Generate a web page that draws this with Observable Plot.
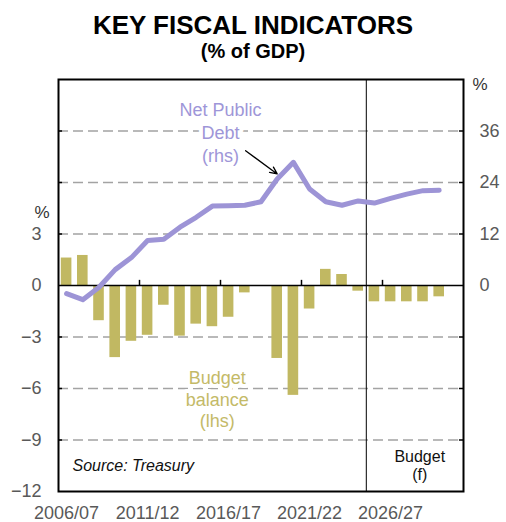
<!DOCTYPE html>
<html>
<head>
<meta charset="utf-8">
<script src="https://cdn.jsdelivr.net/npm/d3@7"></script>
<script src="https://cdn.jsdelivr.net/npm/@observablehq/plot@0.6"></script>
<style>
  body { margin: 0; background: #fff; font-family: "Liberation Sans", Arial, sans-serif; }
  #head { position: relative; width: 506px; height: 66px; }
  #title { position: absolute; left: 0; top: 10px; width: 506px; text-align: center; font-weight: bold; font-size: 26px; line-height: 30px; color: #000; }
  #subtitle { position: absolute; left: 0; top: 39px; width: 506px; text-align: center; font-weight: bold; font-size: 20px; line-height: 24px; color: #000; }
</style>
</head>
<body>
<div id="head">
  <div id="title">KEY FISCAL INDICATORS</div>
  <div id="subtitle">(% of GDP)</div>
</div>
<div id="chart"></div>
<script>
// Financial years (last one is an empty slot at the right of the chart)
const years = ["2006/07","2007/08","2008/09","2009/10","2010/11","2011/12","2012/13","2013/14",
  "2014/15","2015/16","2016/17","2017/18","2018/19","2019/20","2020/21","2021/22","2022/23",
  "2023/24","2024/25","2025/26","2026/27","2027/28","2028/29","2029/30","2030/31"];
// Budget balance, % of GDP (lhs)
const budgetBalance = [1.6,1.75,-2.05,-4.2,-3.25,-2.9,-1.15,-2.95,-2.25,-2.4,-1.85,-0.43,-0.03,
  -4.25,-6.4,-1.37,0.94,0.64,-0.33,-0.95,-0.95,-0.95,-0.95,-0.66];
// Net public debt, % of GDP (rhs)
const netDebt = [-1.9,-3.3,-0.4,3.7,6.5,10.5,10.8,13.6,15.9,18.5,18.6,18.7,19.5,
  24.8,28.7,22.5,19.5,18.7,19.7,19.2,20.3,21.3,22.1,22.2];
// Axis ticks
const leftTicks = [3,0,-3,-6,-9,-12];
const rightTicks = [36,24,12,0];
const gridLines = [9,6,3,-3,-6,-9];
const xLabelYears = ["2006/07","2011/12","2016/17","2021/22","2026/27"];
const xBoundaryTicks = ["2011/12","2016/17","2021/22","2026/27"];
const forecastStart = "2025/26";
const rhsFactor = 4; // rhs value = 4 x lhs value

const idx = y => years.indexOf(y);
const barData = budgetBalance.map((v,i) => ({i, v}));
const lineData = netDebt.map((v,i) => ({i, v}));

const debtColor = "#9D94D6";
const balColor = "#C1B862";

const chart = Plot.plot({
  width: 506,
  height: 456,
  marginTop: 13,
  marginBottom: 31,
  marginLeft: 58,
  marginRight: 43,
  style: { fontFamily: "'Liberation Sans', Arial, sans-serif", fontSize: "18px", color: "#595959", background: "#fff" },
  x: { type: "linear", domain: [0, years.length] },
  y: { domain: [-12, 12] },
  marks: [
    Plot.ruleY(gridLines, { stroke: "#A3A3A3", strokeWidth: 1.7, strokeDasharray: "10,5" }),
    Plot.ruleY(gridLines, { x1: 0, x2: 0.25, stroke: "#000", strokeWidth: 1.5 }),
    Plot.ruleY(gridLines, { x1: years.length - 0.25, x2: years.length, stroke: "#000", strokeWidth: 1.5 }),
    Plot.text([{ y: -6.6, x: 9.8 }], {
      x: "x", y: "y", text: () => "Budget\nbalance\n(lhs)", fill: "#C4BA68",
      fontSize: 18, lineHeight: 1.2, stroke: "#fff", strokeWidth: 8, paintOrder: "stroke"
    }),
    Plot.text([{ y: 8.95, x: 10.0 }], {
      x: "x", y: "y", text: () => "Net Public\nDebt\n(rhs)", fill: "#9E96D8",
      fontSize: 18, lineHeight: 1.28, stroke: "#fff", strokeWidth: 8, paintOrder: "stroke"
    }),
    Plot.rectY(barData, { x1: d => d.i, x2: d => d.i + 1, y: "v", fill: balColor, insetLeft: 2.8, insetRight: 2.8 }),
    Plot.ruleY([0], { stroke: "#000", strokeWidth: 1.6 }),
    Plot.ruleX(xBoundaryTicks, { x: d => idx(d), y1: 0, y2: 0.3, stroke: "#000", strokeWidth: 1.5 }),
    Plot.ruleX([forecastStart], { x: d => idx(d), stroke: "#000", strokeWidth: 1 }),
    Plot.line(lineData, { x: d => d.i + 0.5, y: d => d.v / rhsFactor, stroke: debtColor, strokeWidth: 5, strokeLinejoin: "round" }),
    Plot.arrow([{ x1: 11.55, y1: 7.85, x2: 13.5, y2: 6.5 }], {
      x1: "x1", y1: "y1", x2: "x2", y2: "y2", stroke: "#000", strokeWidth: 1.3, headLength: 9, headAngle: 50
    }),
    Plot.text(["Source: Treasury"], { frameAnchor: "bottom-left", dx: 14, dy: -21, textAnchor: "start", fontStyle: "italic", fontSize: 16, fill: "#111" }),
    Plot.text([{ x: 22.3, y: -10.45 }], { x: "x", y: "y", text: () => "Budget\n(f)", fontSize: 16, lineHeight: 1.15, fill: "#111" }),
    Plot.frame({ stroke: "#000", strokeWidth: 2 }),
    Plot.axisY(leftTicks, { anchor: "left", tickSize: 0, tickPadding: 17, label: null }),
    Plot.axisY(rightTicks.map(d => d / rhsFactor), { anchor: "right", tickSize: 0, tickPadding: 16, tickFormat: d => d * rhsFactor, label: null }),
    Plot.axisX(xLabelYears.map(y => idx(y) + 0.5), { anchor: "bottom", tickSize: 0, tickPadding: 15, tickFormat: d => years[Math.round(d - 0.5)], label: null }),
    Plot.text([{ y: 4.25 }], { y: "y", text: () => "%", frameAnchor: "left", dx: -24, fontSize: 17, fill: "#333" }),
    Plot.text(["%"], { frameAnchor: "top-right", dx: 24, dy: -2, fontSize: 17, fill: "#333" })
  ]
});
document.getElementById("chart").appendChild(chart);
</script>
</body>
</html>
